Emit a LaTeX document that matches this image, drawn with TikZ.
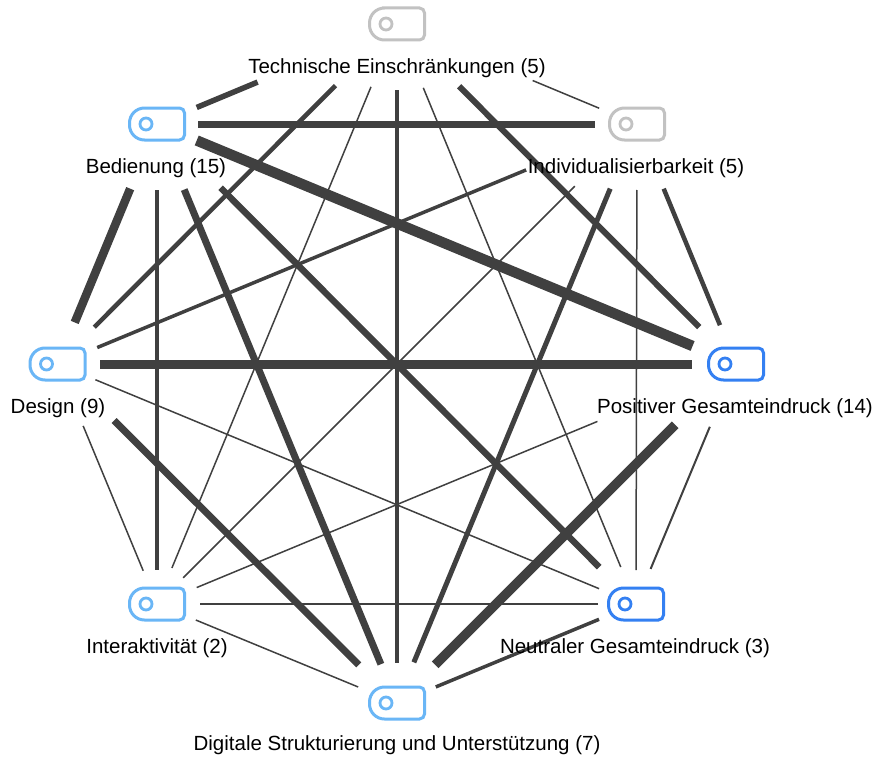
\documentclass[tikz,border=0pt]{standalone}
\usepackage{fontspec}
\setmainfont{Liberation Sans}
\definecolor{edgec}{HTML}{404040}
\definecolor{igray}{HTML}{C2C2C2}
\definecolor{ilight}{HTML}{6AB6F6}
\definecolor{idark}{HTML}{3480F2}
\tikzset{
  pics/codeicon/.style={code={
    \draw[line width=3pt,#1,rounded corners=5pt] (0,-16) -- (27.5,-16) -- (27.5,16) -- (0,16)
      [rounded corners=15pt] -- (-27.5,16) -- (-27.5,-16) -- cycle;
    \draw[line width=2.8pt,#1] (-11,0) circle[radius=6pt];
  }},
  vert/.style={minimum width=55pt, minimum height=32pt, inner sep=0pt},
  lbl/.style={font=\fontsize{20.5pt}{24pt}\selectfont, text=black, inner sep=0pt},
  edge/.style={draw=edgec, line cap=butt}
}
\begin{document}
\begin{tikzpicture}[x=1pt,y=-1pt]
\useasboundingbox[fill=white] (0,0) rectangle (877,760);
% vertices
\node[vert] (T) at (397,24) {};
\node[vert] (I) at (637,124) {};
\node[vert] (P) at (736,364) {};
\node[vert] (N) at (636,604) {};
\node[vert] (G) at (397,703) {};
\node[vert] (Int) at (157,604) {};
\node[vert] (D) at (57.5,364) {};
\node[vert] (B) at (157,124) {};
% edges
\draw[edge, line width=5.5pt, shorten <=151pt, shorten >=43pt] (T.center) -- (B.center);
\draw[edge, line width=1.5pt, shorten <=147pt, shorten >=41pt] (T.center) -- (I.center);
\draw[edge, line width=4.5pt, shorten <=87pt, shorten >=52pt] (T.center) -- (D.center);
\draw[edge, line width=1.5pt, shorten <=68pt, shorten >=39pt] (T.center) -- (Int.center);
\draw[edge, line width=4.5pt, shorten <=66pt, shorten >=40pt] (T.center) -- (G.center);
\draw[edge, line width=1.5pt, shorten <=69pt, shorten >=40pt] (T.center) -- (N.center);
\draw[edge, line width=6pt, shorten <=88pt, shorten >=52pt] (T.center) -- (P.center);
\draw[edge, line width=7pt, shorten <=41pt, shorten >=42pt] (B.center) -- (I.center);
\draw[edge, line width=10.5pt, shorten <=43pt, shorten >=47pt] (B.center) -- (P.center);
\draw[edge, line width=8.5pt, shorten <=70pt, shorten >=45pt] (B.center) -- (D.center);
\draw[edge, line width=4.5pt, shorten <=66pt, shorten >=34pt] (B.center) -- (Int.center);
\draw[edge, line width=7pt, shorten <=71pt, shorten >=42pt] (B.center) -- (G.center);
\draw[edge, line width=6.5pt, shorten <=90pt, shorten >=52pt] (B.center) -- (N.center);
\draw[edge, line width=3.5pt, shorten <=120pt, shorten >=43pt] (I.center) -- (D.center);
\draw[edge, line width=1.5pt, shorten <=88pt, shorten >=37pt] (I.center) -- (Int.center);
\draw[edge, line width=5pt, shorten <=70pt, shorten >=44pt] (I.center) -- (G.center);
\draw[edge, line width=1.5pt, shorten <=66pt, shorten >=34pt] (I.center) -- (N.center);
\draw[edge, line width=4.5pt, shorten <=70pt, shorten >=42pt] (I.center) -- (P.center);
\draw[edge, line width=9pt, shorten <=42.5pt, shorten >=44pt] (D.center) -- (P.center);
\draw[edge, line width=1.5pt, shorten <=41pt, shorten >=40pt] (D.center) -- (N.center);
\draw[edge, line width=1.5pt, shorten <=67pt, shorten >=36pt] (D.center) -- (Int.center);
\draw[edge, line width=7pt, shorten <=80pt, shorten >=54pt] (D.center) -- (G.center);
\draw[edge, line width=2pt, shorten <=68pt, shorten >=38pt] (P.center) -- (N.center);
\draw[edge, line width=1.5pt, shorten <=150pt, shorten >=43pt] (P.center) -- (Int.center);
\draw[edge, line width=9.5pt, shorten <=86pt, shorten >=54pt] (P.center) -- (G.center);
\draw[edge, line width=1.5pt, shorten <=38pt, shorten >=43pt] (N.center) -- (Int.center);
\draw[edge, line width=3.5pt, shorten <=40pt, shorten >=42pt] (N.center) -- (G.center);
\draw[edge, line width=1.5pt, shorten <=42pt, shorten >=42pt] (Int.center) -- (G.center);
% icons
\pic at (T) {codeicon=igray};
\pic at (I) {codeicon=igray};
\pic at (P) {codeicon=idark};
\pic at (N) {codeicon=idark};
\pic at (G) {codeicon=ilight};
\pic at (Int) {codeicon=ilight};
\pic at (D) {codeicon=ilight};
\pic at (B) {codeicon=ilight};
% labels
\node[lbl] (Tl) at (397,68) {Technische Einschränkungen (5)};
\node[lbl] (Il) at (636,168) {Individualisierbarkeit (5)};
\node[lbl] (Pl) at (735,408) {Positiver Gesamteindruck (14)};
\node[lbl] (Nl) at (635,648) {Neutraler Gesamteindruck (3)};
\node[lbl] (Gl) at (397,745) {Digitale Strukturierung und Unterstützung (7)};
\node[lbl] (Intl) at (157,648) {Interaktivität (2)};
\node[lbl] (Dl) at (58,408) {Design (9)};
\node[lbl] (Bl) at (156,168) {Bedienung (15)};
\end{tikzpicture}
\end{document}
